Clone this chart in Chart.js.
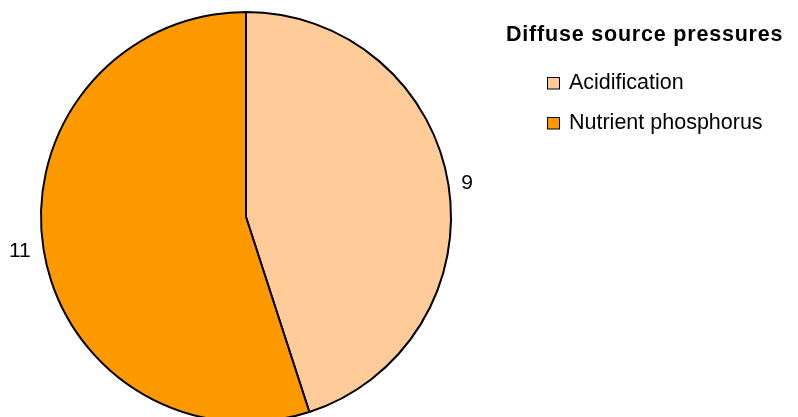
<!DOCTYPE html>
<html>
<head>
<meta charset="utf-8">
<script src="https://cdn.jsdelivr.net/npm/chart.js@4"></script>
<style>
  html, body { margin: 0; padding: 0; background: #fff; overflow: hidden; }
  #wrap { position: relative; width: 798px; height: 430px; }
</style>
</head>
<body>
<div id="wrap"><canvas id="pressureChart"></canvas></div>
<script>
  const legendTitle = 'Diffuse source pressures';
  const categories = ['Acidification', 'Nutrient phosphorus'];
  const counts = [9, 11];
  const sliceColors = ['#FFCC99', '#FF9900'];

  const FONT = '"Liberation Sans", Arial, sans-serif';

  // value labels outside the slices + legend on the right
  const pieExtras = {
    id: 'pieExtras',
    afterDraw(chart) {
      const ctx = chart.ctx;
      const arcs = chart.getDatasetMeta(0).data;
      ctx.save();
      ctx.fillStyle = '#000';
      ctx.font = '21px ' + FONT;
      ctx.textBaseline = 'middle';
      arcs.forEach((arc, i) => {
        const mid = (arc.startAngle + arc.endAngle) / 2;
        const r = arc.outerRadius + 13;
        const x = arc.x + Math.cos(mid) * r;
        const y = arc.y + Math.sin(mid) * r;
        ctx.textAlign = Math.cos(mid) >= 0 ? 'left' : 'right';
        ctx.fillText(String(counts[i]), x, y);
      });

      // legend
      ctx.textAlign = 'left';
      ctx.textBaseline = 'alphabetic';
      ctx.font = 'bold 21.5px ' + FONT;
      ctx.letterSpacing = '0.8px';
      ctx.fillText(legendTitle, 506, 41);
      ctx.letterSpacing = '0px';
      ctx.font = '21.5px ' + FONT;
      categories.forEach((name, i) => {
        const y = 77.5 + i * 40;
        ctx.fillStyle = sliceColors[i];
        ctx.fillRect(547.5, y, 12, 11.5);
        ctx.strokeStyle = '#000';
        ctx.lineWidth = 1;
        ctx.strokeRect(547.5, y, 12, 11.5);
        ctx.fillStyle = '#000';
        ctx.fillText(name, 569, y + 11);
      });
      ctx.restore();
    }
  };

  const pressure = document.getElementById('pressureChart');
  const pressureChart = new Chart(pressure, {
      type: 'pie',
      data: {
          labels: categories,
          datasets: [{
              data: counts,
              backgroundColor: sliceColors,
              borderColor: '#000',
              borderWidth: 2
          }]
      },
      options: {
          responsive: true,
          maintainAspectRatio: false,
          animation: false,
          radius: 205,
          layout: {
              padding: { left: 41, right: 347, top: 12, bottom: 8 }
          },
          plugins: {
              legend: { display: false },
              tooltip: { enabled: false }
          }
      },
      plugins: [pieExtras]
  });
</script>
</body>
</html>
